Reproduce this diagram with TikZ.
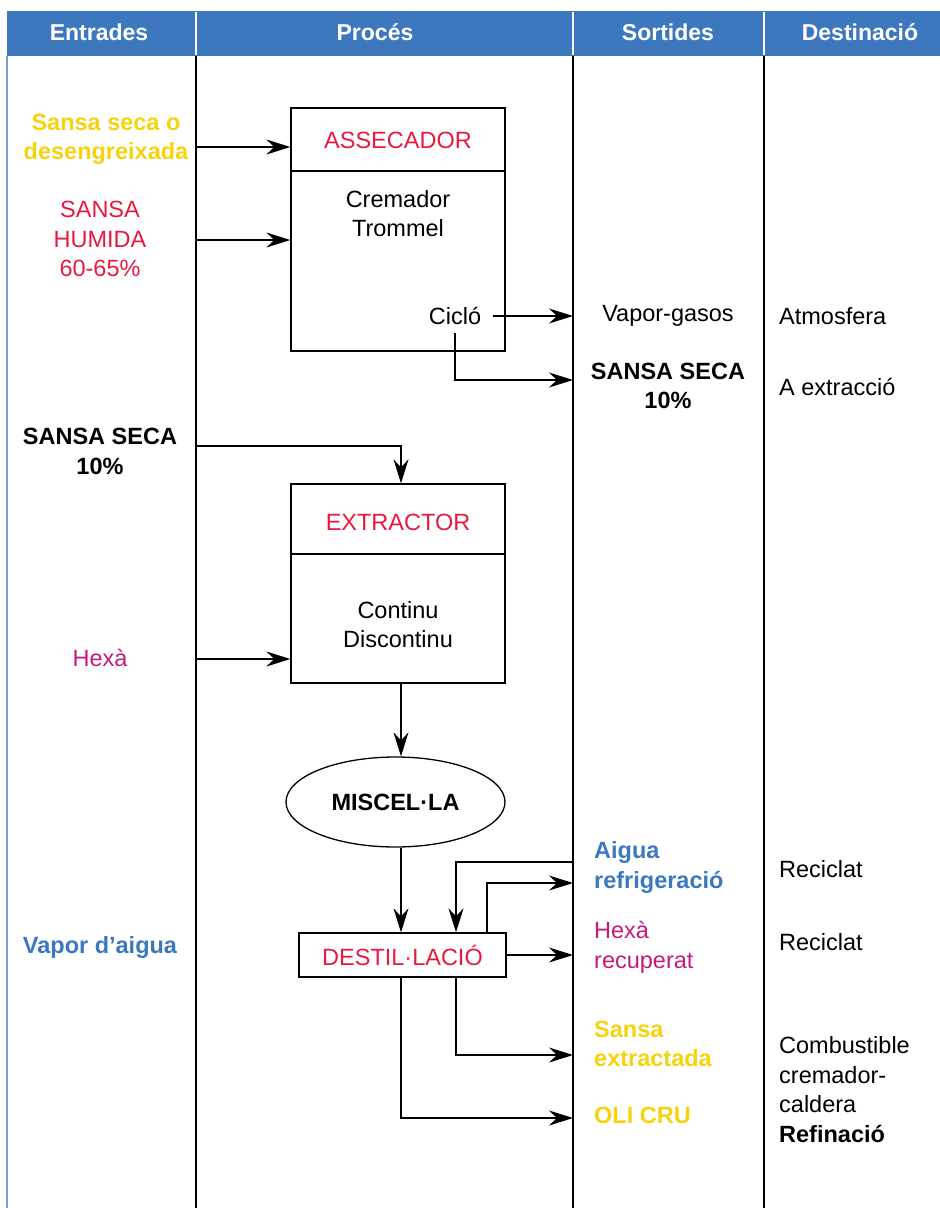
\documentclass[tikz,border=0pt]{standalone}
\usepackage{fontspec}
\setmainfont{Liberation Sans}
\usetikzlibrary{arrows.meta,shapes.geometric}
\definecolor{hdrblue}{HTML}{3D78BE}
\definecolor{txtyellow}{HTML}{F6D20F}
\definecolor{txtred}{HTML}{E8193F}
\definecolor{txtmag}{HTML}{C51A7C}
\definecolor{txtblue}{HTML}{3B78BF}
\tikzset{
  every node/.style={font=\fontsize{23.5}{29.5}\selectfont, inner sep=0pt},
  head/.style={font=\fontsize{23}{26}\selectfont\bfseries, text=white},
  colline/.style={line width=2pt, black},
  procbox/.style={draw, line width=1.3pt, rectangle},
  ln/.style={line width=1.3pt},
  arr/.style={line width=1.3pt, -{Stealth[length=24pt,width=15pt,inset=8pt]}},
  lbl/.style={align=center},
  lftlbl/.style={align=left, anchor=west},
  bold/.style={font=\fontsize{23.5}{29.5}\selectfont\bfseries},
}
\begin{document}
\begin{tikzpicture}[x=1pt,y=-1pt]
\useasboundingbox (0,0) rectangle (940,1208);

% header band and column rules
\fill[hdrblue] (7,11) rectangle (940,56);
\foreach \cx in {196,573,764} {
  \draw[white, line width=2pt] (\cx,12) -- (\cx,55);
  \draw[colline] (\cx,56) -- (\cx,1208);
}
\draw[hdrblue!70, line width=1.2pt] (7,56) -- (7,1208);

\node[head] (h1) at (99,32) {Entrades};
\node[head] (h2) at (375,32) {Procés};
\node[head] (h3) at (668,32) {Sortides};
\node[head] (h4) at (860,32) {Destinació};

% reference columns and axes
\coordinate (colE) at (196,0);
\coordinate (colS) at (573,0);
\coordinate (axA) at (401,0);
\coordinate (axB) at (456,0);
\coordinate (axC) at (487,0);

% dryer
\node[procbox, minimum width=214pt, minimum height=243pt] (dryer) at (398,229.5) {};
\draw[ln] (291,171) -- (505,171);
\node[text=txtred] (dryT) at (398,140) {ASSECADOR};
\node[lbl] (dryB) at (398,213.5) {Cremador\\Trommel};
\node (ciclo) at (455,316) {Cicló};

% extractor
\node[procbox, minimum width=214pt, minimum height=199pt] (extr) at (398,583.5) {};
\draw[ln] (291,554) -- (505,554);
\node[text=txtred] (extT) at (398,522) {EXTRACTOR};
\node[lbl] (extB) at (398,624.5) {Continu\\Discontinu};

% miscella and distillation
\node[draw, ellipse, line width=1.3pt, minimum width=219pt, minimum height=90pt, bold] (misc) at (395.5,802) {MISCEL·LA};
\node[procbox, minimum width=207pt, minimum height=44pt, text=txtred] (dest) at (402.5,955) {DESTIL·LACIÓ};

% inputs
\node[lbl, bold, text=txtyellow] (inA) at (106,139.5) {Sansa seca o\\desengreixada};
\node[lbl, text=txtred] (inB) at (100,239) {SANSA\\HUMIDA\\60-65\%};
\node[lbl, bold] (inC) at (100,451.5) {SANSA SECA\\10\%};
\node[text=txtmag] (inD) at (100,658) {Hexà};
\node[bold, text=txtblue] (inE) at (100,947) {Vapor d’aigua};

% outputs
\node (outA) at (668,316) {Vapor-gasos};
\node[lbl, bold] (outB) at (668,386) {SANSA SECA\\10\%};
\node[lftlbl, bold, text=txtblue] (outC) at (594,867.5) {Aigua\\refrigeració};
\node[lftlbl, text=txtmag] (outD) at (594,947.5) {Hexà\\recuperat};
\node[lftlbl, bold, text=txtyellow] (outE) at (594,1044) {Sansa\\extractada};
\node[lftlbl, bold, text=txtyellow] (outF) at (594,1115) {OLI CRU};

% destinations
\node[lftlbl] (dA) at (779,316) {Atmosfera};
\node[lftlbl] (dB) at (779,387) {A extracció};
\node[lftlbl] (dC) at (779,869) {Reciclat};
\node[lftlbl] (dD) at (779,942) {Reciclat};
\node[lftlbl] (dE) at (779,1089.5) {Combustible\\cremador-\\caldera\\\textbf{Refinació}};

% connector end points on the column rules
\coordinate (e1) at (196,147);
\coordinate (e2) at (196,240);
\coordinate (e3) at (196,446);
\coordinate (e4) at (196,659);
\coordinate (s1) at (573,316);
\coordinate (s2) at (573,380);
\coordinate (s3) at (573,862);
\coordinate (s4) at (573,883);
\coordinate (s5) at (573,1055);
\coordinate (s6) at (573,1118);
\coordinate (cE) at ([xshift=12pt]ciclo.east);
\coordinate (cS) at ([yshift=-8pt]ciclo.south);

% connectors
\draw[arr] (e1) -- (dryer.west |- e1);
\draw[arr] (e2) -- (dryer.west |- e2);
\draw[arr] (cE |- s1) -- (s1);
\draw[arr] (cS) |- (s2);
\draw[arr] (e3) -| (extr.north -| axA);
\draw[arr] (e4) -- (extr.west |- e4);
\draw[arr] (extr.south -| axA) -- (misc.north -| axA);
\draw[arr] (misc.south -| axA) -- (dest.north -| axA);
\draw[arr] (s3) -| (dest.north -| axB);
\draw[arr] (dest.north -| axC) |- (s4);
\draw[arr] (dest.east) -- (dest.east -| colS);
\draw[arr] (dest.south -| axB) |- (s5);
\draw[arr] (dest.south -| axA) |- (s6);
\end{tikzpicture}
\end{document}
